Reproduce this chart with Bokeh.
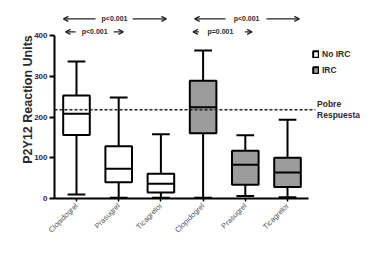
import numpy as np
from bokeh.plotting import figure
from bokeh.models import (ColumnDataSource, FixedTicker, Arrow, OpenHead, Label,
                          Legend, LegendItem, Range1d)
from bokeh.embed import file_html
from bokeh.resources import INLINE

drugs = ["Clopidogrel", "Prasugrel", "Ticagrelor"]
groups = ["No IRC", "IRC"]

noirc_min = [10, 2, 2]
noirc_q1 = [156, 40, 15]
noirc_med = [208, 73, 36]
noirc_q3 = [253, 128, 61]
noirc_max = [336, 248, 158]

irc_min = [2, 6, 3]
irc_q1 = [160, 34, 28]
irc_med = [224, 83, 64]
irc_q3 = [289, 117, 100]
irc_max = [363, 155, 193]

threshold = 218
threshold_label = "Pobre\nRespuesta"
tick_labels = drugs + drugs
comparisons = ["p<0.001", "p<0.001", "p<0.001", "p=0.001"]

BOX_W = 0.63
CAP_W = 0.42
FONT = "Liberation Sans"
TXT = "#2a2a2a"

p = figure(width=371, height=262, output_backend="svg", toolbar_location=None,
           x_range=Range1d(0.479, 7.99), y_range=Range1d(0, 486),
           min_border_left=54, min_border_right=0, min_border_top=0,
           min_border_bottom=64)
p.outline_line_color = None
p.xgrid.visible = False
p.ygrid.visible = False
p.background_fill_color = "white"
p.border_fill_color = "white"


def make_src(pos, mn, q1, med, q3, mx):
    pos = np.array(pos, dtype=float)
    return ColumnDataSource(dict(
        x=pos, left=pos - BOX_W / 2, right=pos + BOX_W / 2,
        cl=pos - CAP_W / 2, cr=pos + CAP_W / 2,
        mn=mn, q1=q1, med=med, q3=q3, mx=mx))


renderers = []
for pos, vals, fill in [([1, 2, 3], (noirc_min, noirc_q1, noirc_med, noirc_q3, noirc_max), "white"),
                        ([4, 5, 6], (irc_min, irc_q1, irc_med, irc_q3, irc_max), "#9c9c9c")]:
    src = make_src(pos, *vals)
    lw = 2
    p.segment("x", "q3", "x", "mx", source=src, line_color="black", line_width=lw)
    p.segment("x", "mn", "x", "q1", source=src, line_color="black", line_width=lw)
    p.segment("cl", "mx", "cr", "mx", source=src, line_color="black", line_width=lw)
    p.segment("cl", "mn", "cr", "mn", source=src, line_color="black", line_width=lw)
    r = p.quad(left="left", right="right", bottom="q1", top="q3", source=src,
               fill_color=fill, line_color="black", line_width=lw)
    p.segment("left", "med", "right", "med", source=src, line_color="black", line_width=lw)
    renderers.append(r)

# threshold dashed line
p.segment(x0=[0.479], y0=[threshold], x1=[6.66], y1=[threshold],
          line_color="#222222", line_width=1.5, line_dash="3 2")
p.add_layout(Label(x=6.70, y=threshold, text=threshold_label, text_font=FONT,
                   text_font_size="8.5px", text_font_style="bold", text_color=TXT,
                   text_baseline="middle", text_align="left", text_line_height=1.1))

# comparison arrows
arrow_specs = [
    # (left_start, left_end, text_x, right_start, right_end, y, text)
    (1.45, 0.69, 1.90, 2.33, 3.13, 441, comparisons[0]),
    (0.98, 0.74, 1.43, 1.88, 2.11, 409, comparisons[1]),
    (4.53, 3.80, 5.03, 5.50, 6.28, 441, comparisons[2]),
    (3.90, 3.76, 4.41, 4.99, 5.16, 409, comparisons[3]),
]
for ls, le, tx, rs, re_, y, t in arrow_specs:
    for xs, xe in [(ls, le), (rs, re_)]:
        p.add_layout(Arrow(x_start=xs, y_start=y, x_end=xe, y_end=y,
                           line_width=1.3, line_color="#222222",
                           end=OpenHead(size=5, line_width=1.3, line_color="#222222")))
    p.add_layout(Label(x=tx, y=y, text=t, text_font=FONT, text_font_size="7px",
                       text_font_style="bold", text_color=TXT,
                       text_align="center", text_baseline="middle"))

# axes
ya = p.yaxis[0]
ya.ticker = FixedTicker(ticks=[0, 100, 200, 300, 400])
ya.bounds = (0, 400)
ya.axis_label = "P2Y12 Reaction Units"
ya.axis_label_text_font = FONT
ya.axis_label_text_font_size = "12.5px"
ya.axis_label_text_font_style = "bold"
ya.axis_label_text_color = TXT
ya.axis_label_standoff = -4
ya.major_label_text_font = FONT
ya.major_label_text_font_size = "8px"
ya.major_label_text_font_style = "bold"
ya.major_label_text_color = TXT
ya.major_label_standoff = 2
ya.axis_line_width = 2
ya.major_tick_line_width = 2
ya.major_tick_out = 5
ya.major_tick_in = 0
ya.minor_tick_line_color = None

xa = p.xaxis[0]
xa.ticker = FixedTicker(ticks=[1, 2, 3, 4, 5, 6])
xa.major_label_overrides = {i + 1: lab for i, lab in enumerate(tick_labels)}
xa.bounds = (0.479, 6.5)
xa.major_label_orientation = np.pi / 4
xa.major_label_text_font = FONT
xa.major_label_text_font_size = "7.5px"
xa.major_label_text_color = "#555555"
xa.major_label_standoff = 3
xa.axis_line_width = 2
xa.major_tick_line_width = 1.5
xa.major_tick_out = 3
xa.major_tick_in = 0
xa.minor_tick_line_color = None

legend = Legend(items=[LegendItem(label=groups[0], renderers=[renderers[0]]),
                       LegendItem(label=groups[1], renderers=[renderers[1]])],
                location=(258, 123), glyph_width=7, glyph_height=8,
                label_text_font=FONT, label_text_font_size="8.5px",
                label_text_font_style="bold", label_text_color=TXT,
                label_height=8, label_standoff=3, spacing=6, padding=0, margin=0,
                border_line_color=None, background_fill_alpha=0)
p.add_layout(legend)

open("out.html", "w").write(file_html(p, INLINE))
